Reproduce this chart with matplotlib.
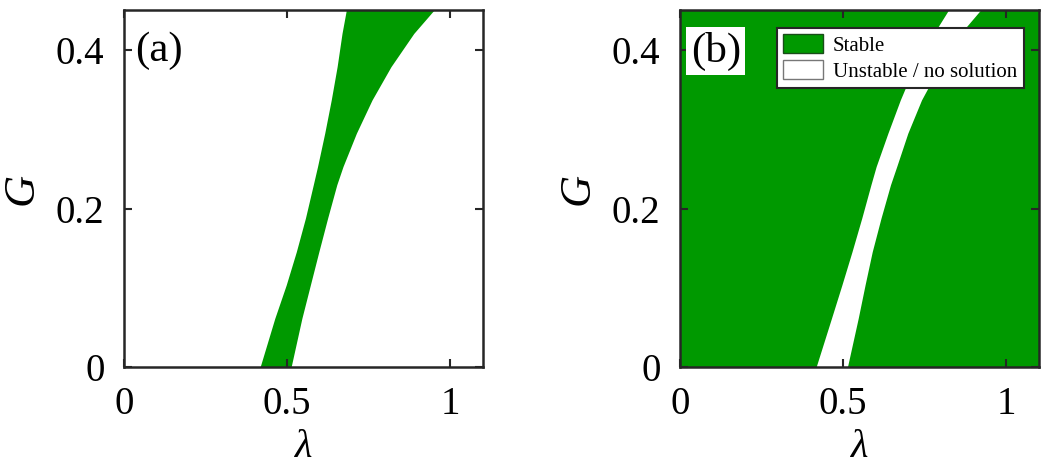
import numpy as np
import matplotlib
matplotlib.use("Agg")
import matplotlib.pyplot as plt
from matplotlib.patches import Patch

plt.rcParams['font.family'] = ['Liberation Serif', 'DejaVu Serif']

# boundaries of the stable region
G_a = [0, 0.0614, 0.1035, 0.1455, 0.188, 0.230, 0.253, 0.295, 0.337, 0.379, 0.421, 0.45]
lam_left_a = [0.417, 0.462, 0.497, 0.528, 0.556, 0.580, 0.593, 0.615, 0.635, 0.653, 0.668, 0.681]
lam_right_a = [0.512, 0.545, 0.571, 0.597, 0.624, 0.652, 0.671, 0.712, 0.760, 0.818, 0.888, 0.949]

# boundaries of the unstable stripe in (b)
G_b = [0, 0.0614, 0.1035, 0.1455, 0.188, 0.230, 0.253, 0.295, 0.337, 0.379, 0.421, 0.45]
lam_left_b = [0.417, 0.464, 0.496, 0.527, 0.557, 0.585, 0.601, 0.637, 0.675, 0.718, 0.778, 0.822]
lam_right_b = [0.513, 0.546, 0.567, 0.589, 0.616, 0.645, 0.664, 0.698, 0.740, 0.795, 0.860, 0.920]

xticks = [0, 0.5, 1]
xticklabels = ['0', '0.5', '1']
yticks = [0, 0.2, 0.4]
yticklabels = ['0', '0.2', '0.4']

green = '#009900'
edge = '#262626'
xmax, ymax = 1.1, 0.45

fig = plt.figure(figsize=(10.49, 4.72), dpi=100)
ax1 = fig.add_axes([124/1049, 105/472, 359/1049, 356.6/472])
ax2 = fig.add_axes([680/1049, 105/472, 359/1049, 356.6/472])

ax1.fill_betweenx(G_a, lam_left_a, lam_right_a, color=green, lw=0)

ax2.fill_betweenx(G_b, 0, lam_left_b, color=green, lw=0)
ax2.fill_betweenx(G_b, lam_right_b, xmax, color=green, lw=0)

for ax, tag in [(ax1, '(a)'), (ax2, '(b)')]:
    ax.set_xlim(0, xmax)
    ax.set_ylim(0, ymax)
    ax.set_xticks(xticks)
    ax.set_xticklabels(xticklabels)
    ax.set_yticks(yticks)
    ax.set_yticklabels(yticklabels)
    ax.tick_params(direction='in', length=6, width=1.5, color=edge,
                   top=True, right=True, labelsize=28, pad=14)
    for s in ax.spines.values():
        s.set_linewidth(1.8)
        s.set_color(edge)
    ax.set_xlabel('λ', fontsize=29, fontstyle='italic', labelpad=4)
    ax.set_ylabel('G', fontsize=32, fontstyle='italic', labelpad=10)
    bb = dict(facecolor='white', edgecolor='none', pad=3) if tag == '(b)' else None
    ax.text(0.03, 0.94, tag, transform=ax.transAxes, fontsize=31,
            va='top', ha='left', bbox=bb)

handles = [Patch(facecolor=green, edgecolor='#1a4d1a', label='Stable'),
           Patch(facecolor='white', edgecolor='#777777', label='Unstable / no solution')]
leg = ax2.legend(handles=handles, loc='upper right', fontsize=15,
                 bbox_to_anchor=(0.957, 0.95), frameon=True, fancybox=False,
                 framealpha=1, handlelength=1.9, handleheight=1.0, borderpad=0.3,
                 labelspacing=0.2, handletextpad=0.5, borderaxespad=0)
leg.get_frame().set_edgecolor(edge)
leg.get_frame().set_linewidth(1.5)

fig.savefig('out.png', dpi=100)
